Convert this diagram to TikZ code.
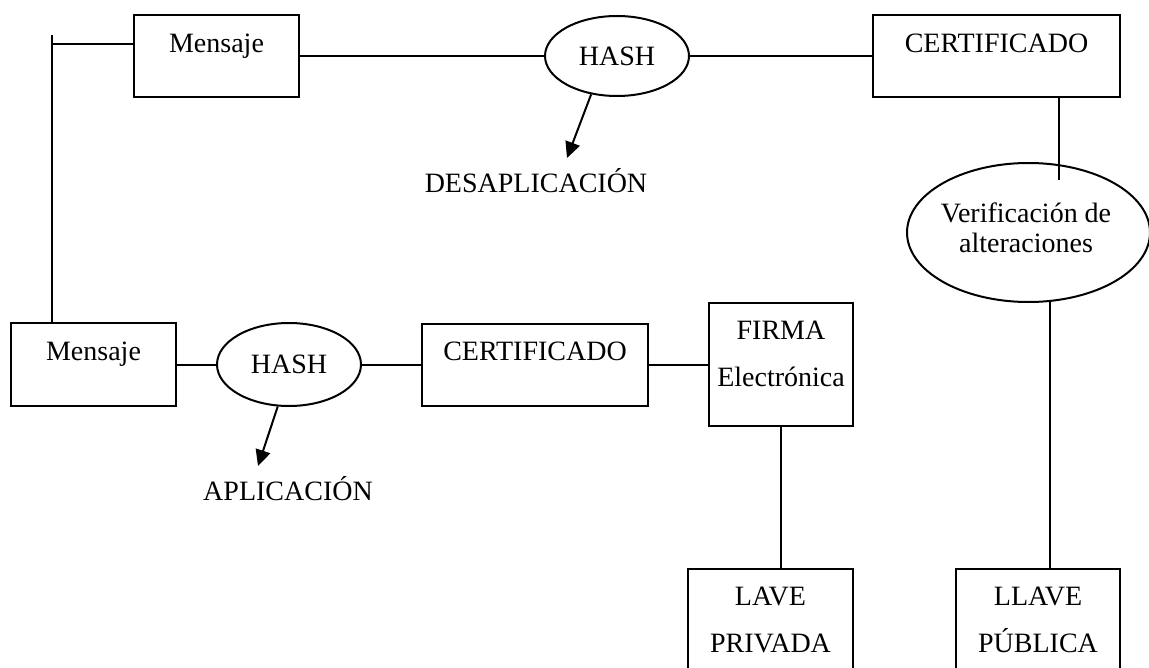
\documentclass[tikz,border=0pt]{standalone}
\usepackage{fontspec}
\setmainfont{Liberation Serif}
\usetikzlibrary{shapes.geometric,arrows.meta}
\begin{document}
\begin{tikzpicture}[x=0.5pt,y=-0.5pt,
  line width=1pt,
  every node/.style={font=\fontsize{14}{23.5}\selectfont},
  box/.style={draw, rectangle, inner sep=0pt},
  oval/.style={draw, ellipse, inner sep=0pt},
  boxtext/.style={anchor=north, inner sep=0pt, align=center, yshift=-9.25pt},
  label text/.style={anchor=base, inner sep=0pt},
  pointer/.style={-{Triangle[length=8pt,width=7.5pt]}}]
\useasboundingbox (0,0) rectangle (1149,668);

% upper row
\node[box, minimum width=82.5pt, minimum height=41pt] (msg1) at (216.5,56) {};
\node[boxtext] (msg1t) at (msg1.north) {Mensaje};
\node[oval, minimum width=72pt, minimum height=40pt] (hash1) at (617,56) {HASH};
\node[box, minimum width=123.5pt, minimum height=41pt] (cert1) at (996.5,56) {};
\node[boxtext] (cert1t) at (cert1.north) {CERTIFICADO};
\node[label text] (desap) at (536,192) {DESAPLICACIÓN};
\coordinate (desaptip) at (567,158);

% verification branch
\node[oval, minimum width=121.5pt, minimum height=69.5pt] (verif) at (1028.5,232.5) {};
\node[label text, align=center, font=\fontsize{14}{15}\selectfont] (veriftext) at (1026,252) {Verificación de\\alteraciones};
\coordinate (veriftop) at (1059,180);
\node[box, minimum width=82pt, minimum height=75.5pt] (pub) at (1038,644.5) {};
\node[boxtext] (pubt) at (pub.north) {LLAVE\\PÚBLICA};

% lower row
\node[box, minimum width=82.5pt, minimum height=41.5pt] (msg2) at (93.5,364.5) {};
\node[boxtext] (msg2t) at (msg2.north) {Mensaje};
\node[oval, minimum width=72pt, minimum height=41.5pt] (hash2) at (289,364.5) {HASH};
\node[box, minimum width=113pt, minimum height=41pt] (cert2) at (535,364.5) {};
\node[boxtext] (cert2t) at (cert2.north) {CERTIFICADO};
\node[box, minimum width=72pt, minimum height=61.5pt] (firma) at (781,364.5) {};
\node[boxtext] (firmat) at (firma.north) {FIRMA\\Electrónica};
\node[box, minimum width=82.5pt, minimum height=75.5pt] (priv) at (770.5,644.5) {};
\node[boxtext] (privt) at (priv.north) {LAVE\\PRIVADA};
\node[label text] (aplic) at (288,500) {APLICACIÓN};
\coordinate (aplictip) at (258,466);

% link between the two messages
\coordinate (ltop) at (52,35);
\coordinate (ljoin) at (52,44);

% connectors
\draw (ltop) -- (ltop |- msg2.north);
\draw (ljoin) -- (ljoin -| msg1.west);
\draw (msg1.east) -- (hash1.west);
\draw (hash1.east) -- (cert1.west);
\draw[pointer] (hash1.-124) -- (desaptip);
\draw (veriftop |- cert1.south) -- (veriftop);
\draw (verif.-73) -- (verif.-73 |- pub.north);

\draw (msg2.east) -- (hash2.west);
\draw (hash2.east) -- (cert2.west);
\draw (cert2.east) -- (firma.west);
\draw[pointer] (hash2.-105) -- (aplictip);
\draw (firma.south) -- (firma.south |- priv.north);
\end{tikzpicture}
\end{document}
